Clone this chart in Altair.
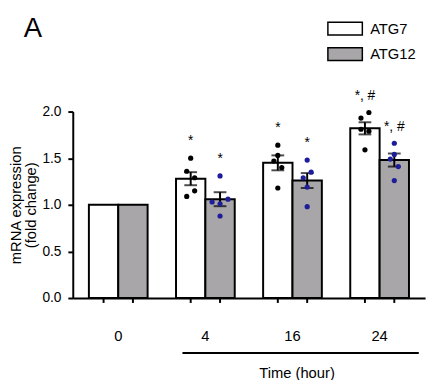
import altair as alt
import pandas as pd

# ---------------- data ----------------
groups = ["0", "4", "16", "24"]
genes = ["ATG7", "ATG12"]
panel = ["A"]

atg7_mean = [1.00, 1.28, 1.45, 1.82]
atg12_mean = [1.00, 1.06, 1.26, 1.48]
atg7_sem = [0.0, 0.07, 0.08, 0.065]
atg12_sem = [0.0, 0.075, 0.08, 0.07]
atg7_sig = ["", "*", "*", "*, #"]
atg12_sig = ["", "*", "*", "*, #"]

# individual replicates (fold change) per time point
atg7_h4 = [1.50, 1.36, 1.29, 1.15, 1.09]
atg7_h16 = [1.64, 1.53, 1.47, 1.40, 1.18]
atg7_h24 = [1.99, 1.93, 1.81, 1.79, 1.59]
atg12_h4 = [1.31, 1.03, 1.01, 1.06, 0.88]
atg12_h16 = [1.48, 1.35, 1.29, 1.19, 0.98]
atg12_h24 = [1.66, 1.54, 1.49, 1.41, 1.26]
# scatter lanes (jitter column of each replicate)
atg7_lane4 = [0, -1, 1, 1, -1]
atg7_lane16 = [0, 0, -1, 1, 0]
atg7_lane24 = [1, -1, -1, 1, 0]
atg12_lane4 = [0, -2, 0, 2, 0]
atg12_lane16 = [0, 1, -1, 0, 0]
atg12_lane24 = [0, 0, -1, 1, 0]

# ---------------- tables ----------------
bar_rows = []
for i, g in enumerate(groups):
    bar_rows.append(dict(group=g, gene="ATG7", mean=atg7_mean[i], sem=atg7_sem[i], sig=atg7_sig[i]))
    bar_rows.append(dict(group=g, gene="ATG12", mean=atg12_mean[i], sem=atg12_sem[i], sig=atg12_sig[i]))
bars_df = pd.DataFrame(bar_rows)
bars_df["lo"] = bars_df["mean"] - bars_df["sem"]
bars_df["hi"] = bars_df["mean"] + bars_df["sem"]

pt_rows = []
series = [
    ("4", "ATG7", atg7_h4, atg7_lane4), ("16", "ATG7", atg7_h16, atg7_lane16), ("24", "ATG7", atg7_h24, atg7_lane24),
    ("4", "ATG12", atg12_h4, atg12_lane4), ("16", "ATG12", atg12_h16, atg12_lane16), ("24", "ATG12", atg12_h24, atg12_lane24),
]
for g, gene, vals, lanes in series:
    centre = 1.0 if gene == "ATG7" else 3.0
    for v, l in zip(vals, lanes):
        pt_rows.append(dict(group=g, gene=gene, value=v, pos=centre + 0.27 * l))
pts_df = pd.DataFrame(pt_rows)

err_df = bars_df[bars_df["sem"] > 0].copy()
lab_df = bars_df[bars_df["sig"] != ""].copy()
mx = pts_df.groupby(["group", "gene"])["value"].max().reset_index().rename(columns={"value": "ly"})
lab_df = lab_df.merge(mx, on=["group", "gene"])
lab_df["ly"] = lab_df["ly"] + 0.2

# ---------------- encodings ----------------
FONT = "Liberation Sans"
x_scale = alt.Scale(domain=groups, paddingInner=0.326, paddingOuter=0.185)
x_axis = alt.Axis(labelAngle=0, ticks=False, tickSize=0, domainColor="black", domainWidth=2,
                  labelFontSize=15, labelColor="black", labelPadding=43, labelBaseline="alphabetic",
                  titleFontSize=15, titleFontWeight="normal", titleColor="black",
                  titleX=228, titleY=81, titleBaseline="alphabetic", grid=False)
x_title = "Time (hour)"
x_enc = alt.X("group:N", scale=x_scale, axis=x_axis, title=x_title)
xo_scale = alt.Scale(type="band", domain=genes, paddingInner=0, paddingOuter=0)
xo_enc = alt.XOffset("gene:N", scale=xo_scale)

y_scale = alt.Scale(domain=[0, 2], nice=False)
y_axis = alt.Axis(values=[0, 0.5, 1, 1.5, 2], format=".1f", tickSize=5, tickWidth=2, tickColor="black",
                  domainColor="black", domainWidth=2, labelFontSize=14, labelColor="black",
                  labelPadding=7, titleFontSize=15, titleFontWeight="normal", titleColor="black",
                  titlePadding=3, titleLineHeight=16, grid=False)
y_title = ["mRNA expression", "(fold change)"]

bars = alt.Chart(bars_df).mark_bar(stroke="black", strokeWidth=2).encode(
    x=x_enc, xOffset=xo_enc,
    y=alt.Y("mean:Q", scale=y_scale, axis=y_axis, title=y_title),
    fill=alt.Fill("gene:N", scale=alt.Scale(domain=genes, range=["white", "#a8a6a8"]),
                  legend=alt.Legend(title=None, orient="none", legendX=270, legendY=-92,
                                    symbolType="M-2.7,-1H2.7V1H-2.7Z", symbolSize=169,
                                    symbolStrokeColor="black", symbolStrokeWidth=1.5,
                                    labelFontSize=15, labelColor="black", labelOffset=18,
                                    rowPadding=7, labelFont=FONT)),
)

under_ticks = alt.Chart(bars_df).mark_rule(color="black", strokeWidth=2).encode(
    x=x_enc, xOffset=xo_enc, y=alt.value(190), y2=alt.value(195))

err_rule = alt.Chart(err_df).mark_rule(color="black", strokeWidth=2).encode(
    x=x_enc, xOffset=xo_enc,
    y=alt.Y("lo:Q", scale=y_scale, axis=y_axis, title=y_title), y2="hi:Q")

caps = alt.Chart(err_df).transform_fold(["lo", "hi"], as_=["end", "yv"]).mark_tick(
    color="black", thickness=2, size=13).encode(
    x=x_enc, xOffset=xo_enc,
    y=alt.Y("yv:Q", scale=y_scale, axis=y_axis, title=y_title))

points = alt.Chart(pts_df).mark_circle(size=28, opacity=1).encode(
    x=x_enc,
    xOffset=alt.XOffset("pos:Q", scale=alt.Scale(domain=[0, 4])),
    y=alt.Y("value:Q", scale=y_scale, axis=y_axis, title=y_title),
    color=alt.Color("gene:N", scale=alt.Scale(domain=genes, range=["black", "#1d1d99"]), legend=None),
)

labels = alt.Chart(lab_df).mark_text(fontSize=14, baseline="alphabetic", dy=6, color="black", font=FONT).encode(
    x=x_enc, xOffset=xo_enc,
    y=alt.Y("ly:Q", scale=y_scale, axis=y_axis, title=y_title),
    text="sig:N")

bracket = alt.Chart(pd.DataFrame({"k": [0]})).mark_rule(color="black", strokeWidth=2, x2Offset=10).encode(
    x=alt.XDatum("4", bandPosition=0.11, scale=x_scale, axis=x_axis, title=x_title),
    x2=alt.X2Datum("24", bandPosition=1),
    y=alt.value(246))

panel_label = alt.Chart(pd.DataFrame({"panel": panel})).mark_text(
    fontSize=28, align="left", baseline="alphabetic", color="black", font=FONT).encode(
    text="panel:N", x=alt.value(-50), y=alt.value(-76))

chart = alt.layer(bars, under_ticks, err_rule, caps, points, labels, bracket, panel_label).resolve_scale(
    xOffset="independent"
).properties(
    width=359, height=190,
    padding={"left": 66, "top": 102, "right": 5, "bottom": 80},
    autosize=alt.AutoSizeParams(type="none"),
).configure(font=FONT).configure_view(stroke=None)

chart.save("out.html", embed_options={"renderer": "svg", "actions": False})
